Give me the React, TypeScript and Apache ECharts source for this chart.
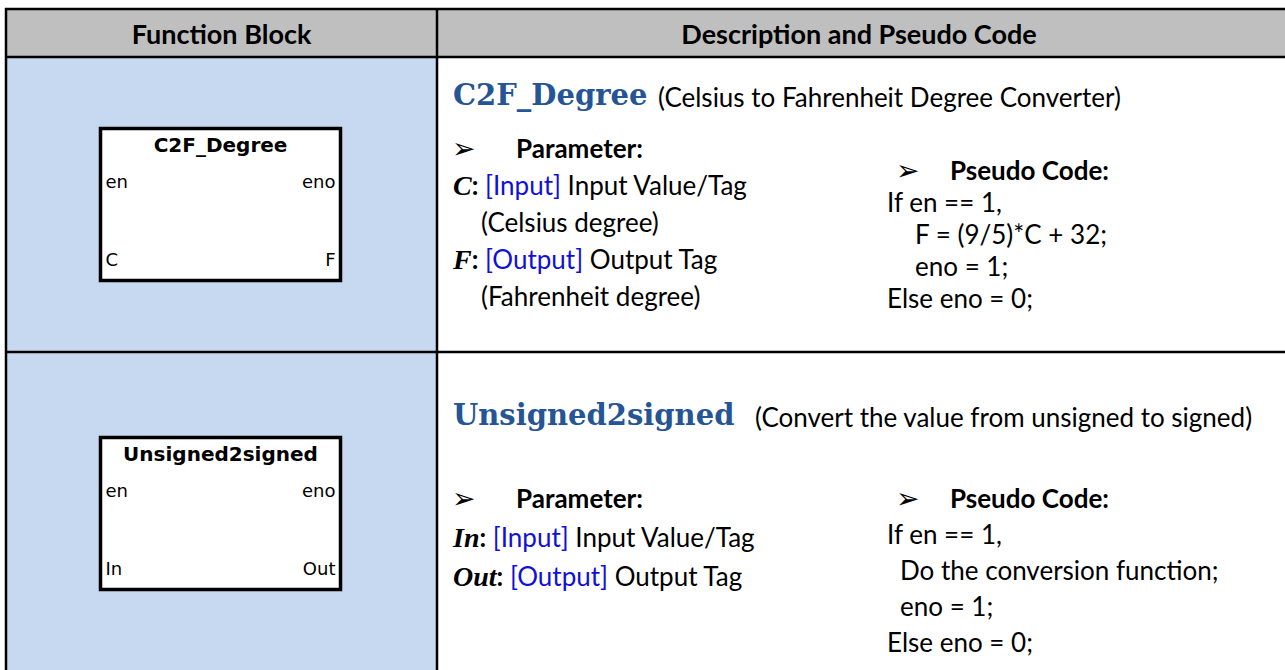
import React, { useEffect, useRef } from 'react';
import * as echarts from 'echarts';

// ---- content ----
const headerLabels = ['Function Block', 'Description and Pseudo Code'];
const blockNames = ['C2F_Degree', 'Unsigned2signed'];
const enableIn = 'en';
const enableOut = 'eno';
const inputPins = ['C', 'In'];
const outputPins = ['F', 'Out'];
const descriptions = [
  '(Celsius to Fahrenheit Degree Converter)',
  '(Convert the value from unsigned to signed)',
];
const paramHeading = 'Parameter:';
const pseudoHeading = 'Pseudo Code:';
const paramNames = [['C', 'F'], ['In', 'Out']];
const paramTags = [['[Input]', '[Output]'], ['[Input]', '[Output]']];
const paramTexts = [['Input Value/Tag', 'Output Tag'], ['Input Value/Tag', 'Output Tag']];
const paramNotes = [['(Celsius degree)', '(Fahrenheit degree)'], ['', '']];
const pseudoLines = [
  ['If en == 1,', 'F = (9/5)*C + 32;', 'eno = 1;', 'Else eno = 0;'],
  ['If en == 1,', 'Do the conversion function;', 'eno = 1;', 'Else eno = 0;'],
];
const pseudoIndent = [
  [0, 1, 1, 0],
  [0, 1, 1, 0],
];

// ---- style ----
const BODY = 'Lato, "Open Sans", sans-serif';
const BLUE_TITLE = '#265595';
const BLUE_TAG = '#1010D8';

export default function App() {
  const ref = useRef<HTMLDivElement>(null);
  useEffect(() => {
    document.body.style.margin = '0';
    const chart = echarts.init(ref.current!, null, { renderer: 'svg' });
    const W = 1285;
    const H = 670;
    const colX = 437;
    const leftX = 6;
    const headTop = 9;
    const headBot = 57;
    const rowTops = [57, 352];

    const els: any[] = [];
    const txt = (x: number, y: number, text: string, font: string, fill = '#000', align = 'left', extra: any = {}) => ({
      type: 'text',
      x,
      y,
      silent: true,
      style: {
        text,
        font,
        fill,
        align,
        textAlign: align,
        verticalAlign: 'middle',
        textVerticalAlign: 'middle',
        ...extra,
      },
    });

    // backgrounds
    els.push({ type: 'rect', shape: { x: leftX, y: headTop, width: W - leftX, height: headBot - headTop }, style: { fill: '#BFBFBF' }, silent: true });
    els.push({ type: 'rect', shape: { x: leftX, y: headBot, width: colX - leftX, height: H - headBot }, style: { fill: '#C6D9F0' }, silent: true });
    els.push({ type: 'rect', shape: { x: colX, y: headBot, width: W - colX, height: H - headBot }, style: { fill: '#FFFFFF' }, silent: true });

    // header texts
    els.push(txt((leftX + colX) / 2, 33, headerLabels[0], `bold 27px ${BODY}`, '#000', 'center'));
    els.push(txt((colX + W) / 2 - 2, 33, headerLabels[1], `bold 27px ${BODY}`, '#000', 'center'));

    // grid lines
    const line = (x1: number, y1: number, x2: number, y2: number, w = 2.5) => ({
      type: 'line', shape: { x1, y1, x2, y2 }, style: { stroke: '#000', lineWidth: w }, silent: true,
    });
    els.push(line(5, headTop, W, headTop));
    els.push(line(5, headBot, W, headBot));
    els.push(line(5, rowTops[1], W, rowTops[1]));
    els.push(line(leftX, headTop - 1, leftX, H));
    els.push(line(colX, headTop - 1, colX, H));

    const blockTops = [128.5, 437.5];
    const titleYs = [95, 415];
    const descXs = [658, 755];
    const paramY0 = [148, 498];
    const paramStep = [37, 39];
    const pseudoY0 = [170, 498];
    const pseudoStep = [32, 36];
    const pseudoIndentPx = [28, 13];
    const PIN = '18px "DejaVu Sans", sans-serif';
    const ARROW = '28px "DejaVu Sans", sans-serif';

    for (let r = 0; r < 2; r++) {
      // function block
      const bx = 100.5;
      const by = blockTops[r];
      els.push({ type: 'rect', shape: { x: bx, y: by, width: 240, height: 152 }, style: { fill: '#fff', stroke: '#000', lineWidth: 3.5 }, silent: true });
      els.push(txt(bx + 120, by + 16, blockNames[r], 'bold 20px "DejaVu Sans", sans-serif', '#000', 'center'));
      els.push(txt(bx + 5, by + 52.5, enableIn, PIN));
      els.push(txt(bx + 235, by + 52.5, enableOut, PIN, '#000', 'right'));
      els.push(txt(bx + 5, by + 130.5, inputPins[r], PIN));
      els.push(txt(bx + 235, by + 130.5, outputPins[r], PIN, '#000', 'right'));

      // title + description
      els.push(txt(453, titleYs[r], blockNames[r], `bold 29px "DejaVu Serif", serif`, BLUE_TITLE));
      els.push(txt(descXs[r], titleYs[r] + 2, descriptions[r], `26px ${BODY}`));

      // parameter heading
      const py = paramY0[r];
      els.push(txt(452, py, '\u27A2', ARROW));
      els.push(txt(516, py, paramHeading, `bold 26px ${BODY}`));
      let y = py;
      for (let i = 0; i < paramNames[r].length; i++) {
        y += paramStep[r];
        els.push({
          type: 'text', x: 453, y, silent: true,
          style: {
            text: `{v|${paramNames[r][i]}}{k|:} {b|${paramTags[r][i]}} ${paramTexts[r][i]}`,
            font: `26px ${BODY}`,
            fill: '#000',
            align: 'left', textAlign: 'left',
            verticalAlign: 'middle', textVerticalAlign: 'middle',
            rich: {
              v: { fontFamily: '"Liberation Serif", serif', fontStyle: 'italic', fontWeight: 'bold', fontSize: 28, fill: '#000' },
              k: { fontFamily: BODY, fontWeight: 'bold', fontSize: 26, fill: '#000' },
              b: { fontFamily: BODY, fontSize: 26, fill: BLUE_TAG },
            },
          },
        });
        if (paramNotes[r][i]) {
          y += paramStep[r];
          els.push(txt(481, y, paramNotes[r][i], `26px ${BODY}`));
        }
      }

      // pseudo code
      const qy = pseudoY0[r];
      els.push(txt(896, qy, '\u27A2', ARROW));
      els.push(txt(950, qy, pseudoHeading, `bold 26px ${BODY}`));
      for (let i = 0; i < pseudoLines[r].length; i++) {
        const lx = 887 + pseudoIndent[r][i] * pseudoIndentPx[r];
        els.push(txt(lx, qy + (i + 1) * pseudoStep[r], pseudoLines[r][i], `26px ${BODY}`));
      }
    }

    chart.setOption({
      animation: false,
      backgroundColor: '#fff',
      graphic: { elements: els },
    });
    return () => chart.dispose();
  }, []);
  return <div ref={ref} style={{ width: 1285, height: 670 }} />;
}
